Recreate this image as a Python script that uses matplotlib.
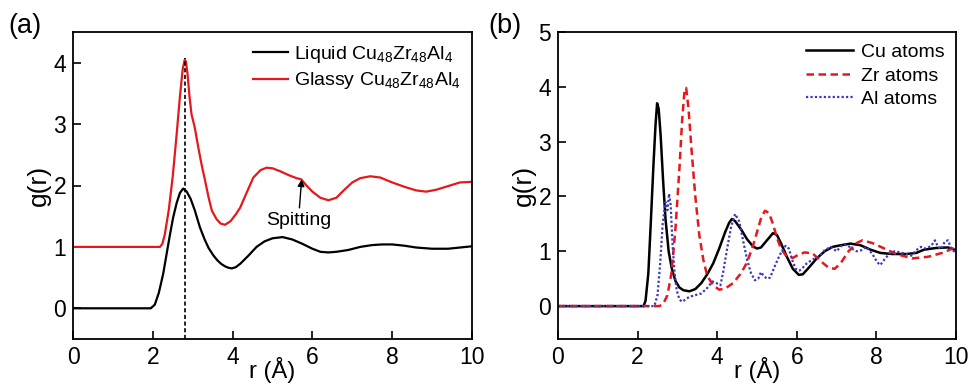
import matplotlib
matplotlib.use("Agg")
import matplotlib.pyplot as plt

plt.rcParams['font.family'] = ['Liberation Sans', 'DejaVu Sans']
plt.rcParams['mathtext.fontset'] = 'custom'
plt.rcParams['mathtext.rm'] = 'Liberation Sans'
plt.rcParams['mathtext.it'] = 'Liberation Sans:italic'

# ---- Panel (a) data ----
liquid_r = [0, 1.95, 2.05, 2.15, 2.26, 2.35, 2.43, 2.51, 2.6, 2.68, 2.76, 2.85, 2.95, 3.05, 3.18, 3.3, 3.4, 3.52, 3.62, 3.72, 3.82, 3.9, 3.98, 4.08, 4.2, 4.4, 4.6, 4.8, 5.0, 5.25, 5.5, 5.75, 6.0, 6.2, 6.4, 6.6, 6.9, 7.2, 7.5, 7.75, 8.0, 8.3, 8.6, 9.0, 9.4, 9.7, 10.0]
liquid_g = [0, 0.0, 0.06, 0.25, 0.56, 0.9, 1.2, 1.48, 1.72, 1.88, 1.95, 1.9, 1.78, 1.6, 1.32, 1.12, 0.98, 0.86, 0.78, 0.72, 0.68, 0.66, 0.65, 0.67, 0.73, 0.86, 1.0, 1.09, 1.14, 1.16, 1.12, 1.05, 0.97, 0.92, 0.91, 0.92, 0.95, 1.0, 1.03, 1.04, 1.04, 1.02, 0.99, 0.97, 0.97, 0.99, 1.01]

glassy_r = [0, 2.18, 2.24, 2.3, 2.4, 2.5, 2.6, 2.68, 2.75, 2.8, 2.83, 2.87, 2.92, 2.97, 3.05, 3.14, 3.22, 3.31, 3.4, 3.48, 3.6, 3.7, 3.81, 3.95, 4.08, 4.19, 4.35, 4.52, 4.7, 4.85, 5.0, 5.2, 5.4, 5.6, 5.72, 5.85, 6.0, 6.2, 6.4, 6.6, 6.8, 7.0, 7.2, 7.45, 7.7, 8.0, 8.3, 8.6, 8.85, 9.1, 9.4, 9.7, 10]
glassy_g = [1, 1, 1.05, 1.2, 1.6, 2.15, 2.85, 3.45, 3.9, 4.05, 4.02, 3.82, 3.45, 3.16, 2.95, 2.62, 2.35, 2.08, 1.8, 1.59, 1.45, 1.38, 1.36, 1.42, 1.53, 1.64, 1.88, 2.13, 2.25, 2.29, 2.28, 2.23, 2.17, 2.12, 2.1, 2.0, 1.9, 1.8, 1.76, 1.8, 1.93, 2.05, 2.12, 2.15, 2.13, 2.05, 1.98, 1.92, 1.9, 1.93, 1.99, 2.05, 2.06]

peak_r = 2.8
peak_g = 4.07

# ---- Panel (b) data ----
cu_r = [0, 2.15, 2.2, 2.27, 2.33, 2.4, 2.45, 2.49, 2.53, 2.58, 2.64, 2.7, 2.78, 2.86, 2.95, 3.05, 3.15, 3.3, 3.45, 3.6, 3.75, 3.9, 4.05, 4.2, 4.3, 4.37, 4.45, 4.6, 4.75, 4.9, 5.0, 5.1, 5.25, 5.4, 5.5, 5.6, 5.75, 5.9, 6.05, 6.15, 6.3, 6.5, 6.7, 6.9, 7.1, 7.35, 7.6, 7.85, 8.1, 8.4, 8.75, 9.0, 9.2, 9.5, 9.8, 10]
cu_g = [0, 0, 0.1, 0.6, 1.5, 2.6, 3.3, 3.7, 3.6, 3.1, 2.3, 1.6, 1.0, 0.68, 0.46, 0.34, 0.29, 0.27, 0.31, 0.42, 0.58, 0.78, 1.05, 1.35, 1.52, 1.59, 1.55, 1.4, 1.22, 1.09, 1.05, 1.07, 1.2, 1.33, 1.3, 1.15, 0.9, 0.68, 0.57, 0.58, 0.7, 0.87, 1.0, 1.08, 1.11, 1.14, 1.11, 1.03, 0.97, 0.95, 0.95, 0.97, 1.03, 1.06, 1.07, 1.02]

zr_r = [0, 2.55, 2.65, 2.75, 2.85, 2.95, 3.05, 3.12, 3.18, 3.22, 3.28, 3.35, 3.45, 3.55, 3.65, 3.75, 3.9, 4.05, 4.2, 4.4, 4.6, 4.75, 4.9, 5.0, 5.1, 5.2, 5.3, 5.4, 5.5, 5.6, 5.75, 5.9, 6.05, 6.2, 6.4, 6.6, 6.8, 6.95, 7.1, 7.3, 7.5, 7.65, 7.9, 8.2, 8.5, 8.9, 9.3, 9.7, 10]
zr_g = [0, 0, 0.05, 0.2, 0.6, 1.4, 2.5, 3.4, 3.95, 3.98, 3.6, 2.9, 2.0, 1.3, 0.85, 0.55, 0.38, 0.3, 0.32, 0.42, 0.6, 0.8, 1.1, 1.35, 1.6, 1.74, 1.7, 1.5, 1.25, 1.05, 0.9, 0.88, 0.94, 0.98, 0.96, 0.82, 0.7, 0.68, 0.78, 1.0, 1.15, 1.2, 1.15, 1.05, 0.95, 0.87, 0.9, 0.98, 1.08]

al_r = [0, 2.42, 2.5, 2.57, 2.63, 2.7, 2.75, 2.79, 2.83, 2.88, 2.93, 2.98, 3.05, 3.12, 3.2, 3.3, 3.45, 3.6, 3.75, 3.88, 3.98, 4.08, 4.15, 4.25, 4.35, 4.45, 4.55, 4.65, 4.75, 4.85, 4.95, 5.03, 5.1, 5.17, 5.25, 5.33, 5.42, 5.52, 5.62, 5.72, 5.8, 5.88, 5.97, 6.07, 6.15, 6.25, 6.4, 6.55, 6.7, 6.85, 7.0, 7.12, 7.25, 7.38, 7.5, 7.62, 7.75, 7.9, 8.02, 8.1, 8.2, 8.32, 8.45, 8.6, 8.75, 8.88, 9.0, 9.12, 9.25, 9.38, 9.47, 9.55, 9.63, 9.72, 9.8, 9.88, 9.95, 10]
al_g = [0, 0, 0.2, 0.8, 1.5, 1.9, 1.75, 2.05, 1.85, 1.1, 0.6, 0.3, 0.12, 0.08, 0.12, 0.17, 0.2, 0.23, 0.33, 0.45, 0.42, 0.38, 0.62, 1.05, 1.45, 1.68, 1.55, 1.2, 0.85, 0.6, 0.47, 0.5, 0.62, 0.55, 0.5, 0.52, 0.68, 0.85, 1.0, 1.1, 1.05, 0.85, 0.68, 0.65, 0.7, 0.78, 0.85, 0.9, 1.02, 1.08, 1.0, 1.1, 1.12, 1.05, 1.0, 1.02, 1.08, 0.95, 0.8, 0.75, 0.85, 0.95, 1.0, 0.98, 0.95, 0.92, 1.02, 1.08, 1.05, 1.1, 1.2, 1.08, 1.04, 1.18, 1.2, 1.05, 1.0, 0.98]

x_ticks = [0, 2, 4, 6, 8, 10]
ya_ticks = [0, 1, 2, 3, 4]
yb_ticks = [0, 1, 2, 3, 4, 5]

RED = '#e3191e'
BLUE = '#3a3ab8'

fig = plt.figure(figsize=(9.69, 3.89), dpi=100)
ax1 = fig.add_axes([73/969, 50/389, 399/969, 307/389])
ax2 = fig.add_axes([558/969, 50/389, 398/969, 307/389])

ax1.plot(liquid_r, liquid_g, color='black', lw=1.6, label='Liquid Cu$_{48}$Zr$_{48}$Al$_{4}$')
ax1.plot(glassy_r, glassy_g, color=RED, lw=1.6, label='Glassy Cu$_{48}$Zr$_{48}$Al$_{4}$')
ax1.plot([peak_r, peak_r], [-0.5, peak_g], color='black', lw=1.2, ls=(0, (2.5, 1.5)))
ax1.annotate('Spitting', xy=(5.73, 2.1), xytext=(5.65, 1.43), ha='center', va='center',
             fontsize=14, arrowprops=dict(arrowstyle='-|>', color='black', lw=1.0,
                                            mutation_scale=10, shrinkA=1, shrinkB=0))
ax1.set_xlim(0, 10)
ax1.set_ylim(-0.5, 4.5)
ax1.set_yticks(ya_ticks)
ax1.legend(loc='upper right', frameon=False, fontsize=14, handlelength=1.8,
           handletextpad=0.3, labelspacing=0.3, borderaxespad=0.2)

ax2.plot(cu_r, cu_g, color='black', lw=1.8, label='Cu atoms')
ax2.plot(zr_r, zr_g, color=RED, lw=1.8, ls=(0, (3, 1.8)), label='Zr atoms')
ax2.plot(al_r, al_g, color=BLUE, lw=1.6, ls=(0, (1, 1)), label='Al atoms')
ax2.set_xlim(0, 10)
ax2.set_ylim(-0.6, 5)
ax2.set_yticks(yb_ticks)
ax2.legend(loc='upper right', frameon=False, fontsize=14, handlelength=2.4,
           handletextpad=0.4, labelspacing=0.3, borderaxespad=0.2)

for ax in (ax1, ax2):
    ax.set_xticks(x_ticks)
    ax.tick_params(direction='in', length=6, width=1.2, labelsize=16.5, pad=5)
    for s in ax.spines.values():
        s.set_linewidth(1.3)
    ax.set_xlabel('r (Å)', fontsize=17)
    ax.xaxis.set_label_coords(0.5, -0.06)
    ax.set_ylabel('g(r)', fontsize=19, labelpad=2)

fig.text(8/969, 1 - 26/389, '(a)', fontsize=19.5, va='center', ha='left')
fig.text(488/969, 1 - 26/389, '(b)', fontsize=19.5, va='center', ha='left')

fig.savefig('out.png', dpi=100)
